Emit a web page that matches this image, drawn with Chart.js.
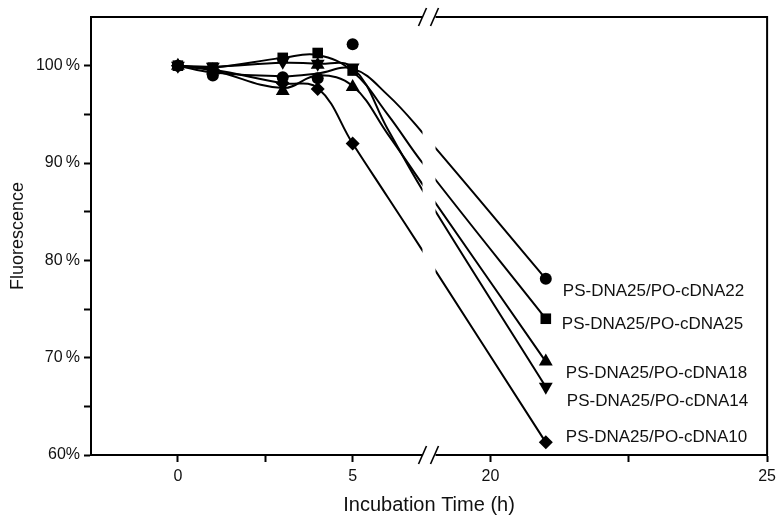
<!DOCTYPE html>
<html>
<head>
<meta charset="utf-8">
<script src="https://cdn.jsdelivr.net/npm/chart.js@4.4.0/dist/chart.umd.min.js"></script>
<style>
  html, body { margin: 0; padding: 0; background: #fff; }
</style>
</head>
<body>
<canvas id="cvs_fluorescencia" width="781" height="519"></canvas>
<script>
// fluorescencia.js - curvas de fluorescência x tempo de incubação

// horas em que as medidas foram feitas
var horasMedidas = [0, 1, 3, 4, 5, 21];
var horasCurva = [0, 1, 3, 4, 5, 6, 7, 21];

var nomes = [
  "PS-DNA25/PO-cDNA22",
  "PS-DNA25/PO-cDNA25",
  "PS-DNA25/PO-cDNA18",
  "PS-DNA25/PO-cDNA14",
  "PS-DNA25/PO-cDNA10",
];

// medidas (%)
var medCDNA22 = [100, 99.0, 98.8, 98.7, 102.2, 78.1];
var medCDNA25 = [100, 99.8, 100.8, 101.3, 99.5, 74.0];
var medCDNA18 = [100, 99.5, 97.4, 100.1, 97.8, 69.6];
var medCDNA14 = [100, 99.9, 100.4, 100.2, 99.8, 67.0];
var medCDNA10 = [100, 99.6, 98.2, 97.6, 92.0, 61.3];

// curvas ajustadas (%)
var curCDNA22 = [100, 99.3, 98.9, 99.2, 99.7, 97.0, 93.1, 78.1];
var curCDNA25 = [100, 99.8, 100.8, 101.1, 99.4, 95.0, 90.0, 74.0];
var curCDNA18 = [100, 99.5, 97.7, 99.0, 97.9, 93.0, 87.8, 69.6];
var curCDNA14 = [100, 99.9, 100.3, 100.2, 99.8, 93.5, 87.2, 67.0];
var curCDNA10 = [100, 99.6, 98.2, 97.7, 92.0, 86.5, 81.0, 61.3];

var ticksX = [0, 2.5, 5, 20, 22.5, 25];
var rotulosX = ["0", "", "5", "20", "", "25"];
var ticksY = [60, 65, 70, 75, 80, 85, 90, 95, 100];
var rotulosY = ["60%", "", "70\u2009%", "", "80\u2009%", "", "90\u2009%", "", "100\u2009%"];

var simbolos = ["circle", "rect", "triangle", "triangle", "rectRot"];
var rotacoes = [0, 0, 0, 180, 0];
var raios = [6, 7.5, 8, 8, 7];

// eixo x quebrado: 0-7 h em escala normal, 20-25 h esticado
function eixo(h) {
  if (h <= 10) return h;
  return 5 + 138 / 35 + (h - 20) * 55.4 / 35;
}
var QUEBRA = 7.17; // posição da quebra (unidades do eixo)

var medidas = [medCDNA22, medCDNA25, medCDNA18, medCDNA14, medCDNA10];
var curvas = [curCDNA22, curCDNA25, curCDNA18, curCDNA14, curCDNA10];

var datasets = [];
for (let i = 0; i < curvas.length; i++) {
  datasets.push({
    label: nomes[i] + " (ajuste)",
    data: horasCurva.map((h, k) => ({ x: eixo(h), y: curvas[i][k] })),
    borderColor: "#000",
    borderWidth: 2,
    pointRadius: 0,
    tension: 0.4,
    fill: false,
  });
}
for (let i = 0; i < medidas.length; i++) {
  datasets.push({
    label: nomes[i],
    data: horasMedidas.map((h, k) => ({ x: eixo(h), y: medidas[i][k] })),
    showLine: false,
    pointStyle: simbolos[i],
    rotation: rotacoes[i],
    pointRadius: raios[i],
    pointBackgroundColor: "#000",
    pointBorderColor: "#000",
    pointBorderWidth: 0,
  });
}

const fonte = "'Liberation Sans', Arial, Helvetica, sans-serif";

// quebra do eixo, moldura e rótulos das séries
const quebraPlugin = {
  id: "quebra",
  afterDatasetsDraw(chart) {
    const ctx = chart.ctx;
    const a = chart.chartArea;
    const xs = chart.scales.x;
    const ys = chart.scales.y;
    const xq = xs.getPixelForValue(QUEBRA);

    ctx.save();
    // moldura topo e direita
    ctx.strokeStyle = "#000";
    ctx.lineWidth = 2;
    ctx.beginPath();
    ctx.moveTo(a.left, a.top);
    ctx.lineTo(a.right, a.top);
    ctx.lineTo(a.right, a.bottom);
    ctx.stroke();

    // buraco branco na quebra
    ctx.fillStyle = "#fff";
    ctx.fillRect(xq - 6, a.top - 3, 13, a.bottom - a.top + 6);

    // barras //
    ctx.lineWidth = 1.6;
    [a.top, a.bottom].forEach((y) => {
      [xq - 6, xq + 6].forEach((x) => {
        ctx.beginPath();
        ctx.moveTo(x - 4, y + 9);
        ctx.lineTo(x + 4, y - 9);
        ctx.stroke();
      });
    });

    // nomes ao lado dos últimos pontos
    const dx = [17, 16, 20, 21, 20];
    const dy = [12, 6, 12, 14, -5];
    ctx.fillStyle = "#111";
    ctx.font = "17px " + fonte;
    ctx.textBaseline = "middle";
    ctx.textAlign = "left";
    for (let i = 0; i < medidas.length; i++) {
      const ult = medidas[i].length - 1;
      const px = xs.getPixelForValue(eixo(horasMedidas[ult]));
      const py = ys.getPixelForValue(medidas[i][ult]);
      ctx.fillText(nomes[i], px + dx[i], py + dy[i]);
    }
    ctx.restore();
  },
};

new Chart(document.getElementById("cvs_fluorescencia"), {
  type: "line",
  data: { datasets: datasets },
  options: {
    responsive: false,
    animation: false,
    devicePixelRatio: 1,
    layout: { padding: { left: 0, top: 17, right: 13, bottom: 0 } },
    plugins: {
      legend: { display: false },
      tooltip: { enabled: false },
    },
    scales: {
      x: {
        type: "linear",
        min: -2.486,
        max: eixo(25),
        afterBuildTicks: (s) => {
          s.ticks = ticksX.map((v) => ({ value: eixo(v) }));
        },
        afterFit: (s) => {
          s.height = 64;
        },
        ticks: {
          autoSkip: false,
          maxRotation: 0,
          padding: 5,
          color: "#111",
          font: { family: fonte, size: 16 },
          callback: (v, i) => rotulosX[i],
        },
        grid: {
          drawOnChartArea: false,
          tickLength: 7,
          tickWidth: 2,
          tickColor: "#000",
        },
        border: { color: "#000", width: 2 },
        title: {
          display: true,
          text: "Incubation Time (h)",
          color: "#111",
          font: { family: fonte, size: 20 },
          padding: { top: 0, bottom: 2 },
        },
      },
      y: {
        min: 60,
        max: 105,
        afterBuildTicks: (s) => {
          s.ticks = ticksY.map((v) => ({ value: v }));
        },
        afterFit: (s) => {
          s.width = 91;
        },
        ticks: {
          autoSkip: false,
          padding: 4,
          color: "#111",
          font: { family: fonte, size: 16 },
          callback: (v, i) => rotulosY[i],
        },
        grid: {
          drawOnChartArea: false,
          tickLength: 7,
          tickWidth: 2,
          tickColor: "#000",
        },
        border: { color: "#000", width: 2 },
        title: {
          display: true,
          text: "Fluorescence",
          color: "#111",
          font: { family: fonte, size: 18 },
          padding: { top: 7, bottom: 0 },
        },
      },
    },
  },
  plugins: [quebraPlugin],
});
</script>
</body>
</html>
